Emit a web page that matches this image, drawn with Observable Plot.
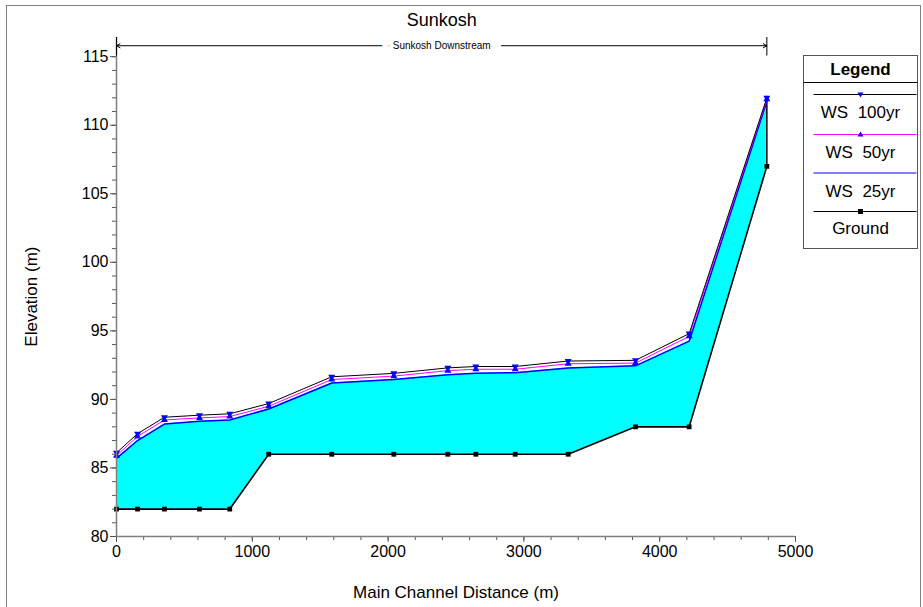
<!DOCTYPE html>
<html><head><meta charset="utf-8">
<script src="https://cdn.jsdelivr.net/npm/d3@7"></script>
<script src="https://cdn.jsdelivr.net/npm/@observablehq/plot@0.6"></script>
<style>body{margin:0;background:#fff;} svg{display:block;}</style>
</head><body><div id="chart"></div>
<script>
// ---- data ----
const stations = [0, 155, 353, 611, 834, 1121, 1585, 2042, 2440, 2646, 2936, 3326, 3822, 4217, 4789];
const ground   = [82, 82, 82, 82, 82, 86, 86, 86, 86, 86, 86, 86, 88, 88, 107];
const ws100    = [86.1, 87.5, 88.7, 88.85, 88.95, 89.7, 91.65, 91.9, 92.3, 92.4, 92.4, 92.8, 92.85, 94.8, 112.0];
const ws50     = [85.9, 87.3, 88.5, 88.65, 88.75, 89.5, 91.45, 91.7, 92.1, 92.2, 92.2, 92.6, 92.65, 94.6, 111.9];
const ws25     = [85.7, 87.0, 88.2, 88.4, 88.5, 89.3, 91.2, 91.45, 91.8, 91.9, 91.95, 92.3, 92.45, 94.25, 111.75];
const xTicks = [0, 1000, 2000, 3000, 4000, 5000];
const yTicks = [80, 85, 90, 95, 100, 105, 110, 115];
const reachName = "Sunkosh Downstream";
const reachEnds = [0, 4789];
const chartTitle = "Sunkosh";
const legendTitle = "Legend";
const legendLabels = ["WS  100yr", "WS  50yr", "WS  25yr", "Ground"];

const rows = stations.map((x, i) => ({x, ground: ground[i], ws100: ws100[i], ws50: ws50[i], ws25: ws25[i]}));
const last = rows[rows.length - 1];
const reachMid = (reachEnds[0] + reachEnds[1]) / 2;
const arrowY = 115.8;
const font = "Liberation Sans, Arial, sans-serif";
const noText = () => "";

const plot = Plot.plot({
  width: 923, height: 607,
  marginLeft: 116, marginRight: 128, marginTop: 37, marginBottom: 71,
  x: {domain: [0, 5000]},
  y: {domain: [80, 116.4]},
  style: {fontFamily: font, fontSize: "16px", color: "black", background: "white"},
  marks: [
    Plot.areaY(rows, {x: "x", y1: "ground", y2: "ws25", fill: "#00FFFF", curve: "linear"}),
    Plot.lineY(rows, {x: "x", y: "ground", stroke: "black", strokeWidth: 1.6}),
    Plot.ruleX([last], {x: "x", y1: "ground", y2: "ws100", stroke: "black", strokeWidth: 1.5}),
    Plot.lineY(rows, {x: "x", y: "ws25", stroke: "#0000FF", strokeWidth: 1.5}),
    Plot.lineY(rows, {x: "x", y: "ws50", stroke: "#FF00FF", strokeWidth: 1}),
    Plot.lineY(rows, {x: "x", y: "ws100", stroke: "black", strokeWidth: 1}),
    Plot.dot(rows, {x: "x", y: "ws50", symbol: "triangle", r: 2.6, fill: "#0000FF"}),
    Plot.dot(rows, {x: "x", y: "ws100", symbol: "triangle", rotate: 180, r: 2.6, fill: "#0000FF"}),
    Plot.dot(rows, {x: "x", y: "ground", symbol: "square", r: 2.7, fill: "black"}),
    // axes
    Plot.axisX({ticks: d3.range(0, 5001, 200), tickSize: 4, tickFormat: noText, stroke: "#555", label: null}),
    Plot.axisX({ticks: xTicks, tickSize: 6, tickPadding: 3, tickFormat: d => String(d), stroke: "#555", label: null}),
    Plot.axisY({ticks: d3.range(80, 116, 1), tickSize: 4, tickFormat: noText, stroke: "#555", label: null}),
    Plot.axisY({ticks: yTicks, tickSize: 6, tickPadding: 2, tickFormat: d => String(d), stroke: "#555", label: null}),
    Plot.ruleY([80], {stroke: "#7f7f7f", strokeWidth: 1.5}),
    Plot.ruleX([0], {y1: 80, y2: 116.4, stroke: "#7f7f7f", strokeWidth: 1.5}),
    // reach marker
    Plot.ruleX(reachEnds, {y1: 116.4, y2: 115.05, stroke: "black", strokeWidth: 1}),
    Plot.arrow([{a: reachMid, b: reachEnds[0]}, {a: reachMid, b: reachEnds[1]}], {x1: "a", x2: "b", y1: arrowY, y2: arrowY, stroke: "black", strokeWidth: 1, headLength: 6}),
    Plot.text([reachName], {x: reachMid, y: arrowY, fontSize: 10, stroke: "white", strokeWidth: 22, fill: "black", letterSpacing: -0.4}),
    Plot.text([chartTitle], {x: reachMid, frameAnchor: "top", lineAnchor: "middle", dy: -17, fontSize: 18}),
    Plot.text(["Main Channel Distance (m)"], {frameAnchor: "bottom", lineAnchor: "middle", dy: 56, fontSize: 17}),
    Plot.text(["Elevation (m)"], {y: (yTicks[0] + yTicks[yTicks.length - 1]) / 2, frameAnchor: "left", textAnchor: "middle", lineAnchor: "middle", dx: -85, rotate: -90, fontSize: 17})
  ]
});

const svg = d3.select(plot);
// outer frame
svg.append("rect").attr("x", 6.5).attr("y", 5.5).attr("width", 914).attr("height", 620)
  .attr("fill", "none").attr("stroke", "#808080");
// legend
const lg = svg.append("g").attr("font-family", font);
const lx = 803.5, lw = 114, cx = lx + lw / 2;
lg.append("rect").attr("x", lx).attr("y", 55.5).attr("width", lw).attr("height", 193)
  .attr("fill", "white").attr("stroke", "#555");
lg.append("text").attr("x", cx).attr("y", 69).attr("text-anchor", "middle").attr("dominant-baseline", "central")
  .attr("font-size", 17).attr("font-weight", "bold").text(legendTitle);
lg.append("line").attr("x1", lx).attr("x2", lx + lw).attr("y1", 82.5).attr("y2", 82.5).attr("stroke", "black");
const lineYs = [94.5, 134.5, 173, 211.5];
const textYs = [112.5, 152, 191.5, 228.5];
const lineColors = ["black", "#FF00FF", "#0000FF", "black"];
legendLabels.forEach((lab, i) => {
  lg.append("line").attr("x1", lx + 10).attr("x2", lx + lw - 1).attr("y1", lineYs[i]).attr("y2", lineYs[i])
    .attr("stroke", lineColors[i]).attr("stroke-width", 1);
  if (i === 0) lg.append("path").attr("d", `M${cx-3},${lineYs[i]-2}L${cx+3},${lineYs[i]-2}L${cx},${lineYs[i]+3}Z`).attr("fill", "#0000FF");
  if (i === 1) lg.append("path").attr("d", `M${cx-3},${lineYs[i]+2}L${cx+3},${lineYs[i]+2}L${cx},${lineYs[i]-3}Z`).attr("fill", "#0000FF");
  if (i === 3) lg.append("rect").attr("x", cx - 2.5).attr("y", lineYs[i] - 2.5).attr("width", 5).attr("height", 5).attr("fill", "black");
  lg.append("text").attr("x", cx).attr("y", textYs[i]).attr("text-anchor", "middle").attr("dominant-baseline", "central")
    .attr("font-size", 17).attr("xml:space", "preserve").style("white-space", "pre").text(lab);
});
document.getElementById("chart").appendChild(plot);
</script>
</body></html>
